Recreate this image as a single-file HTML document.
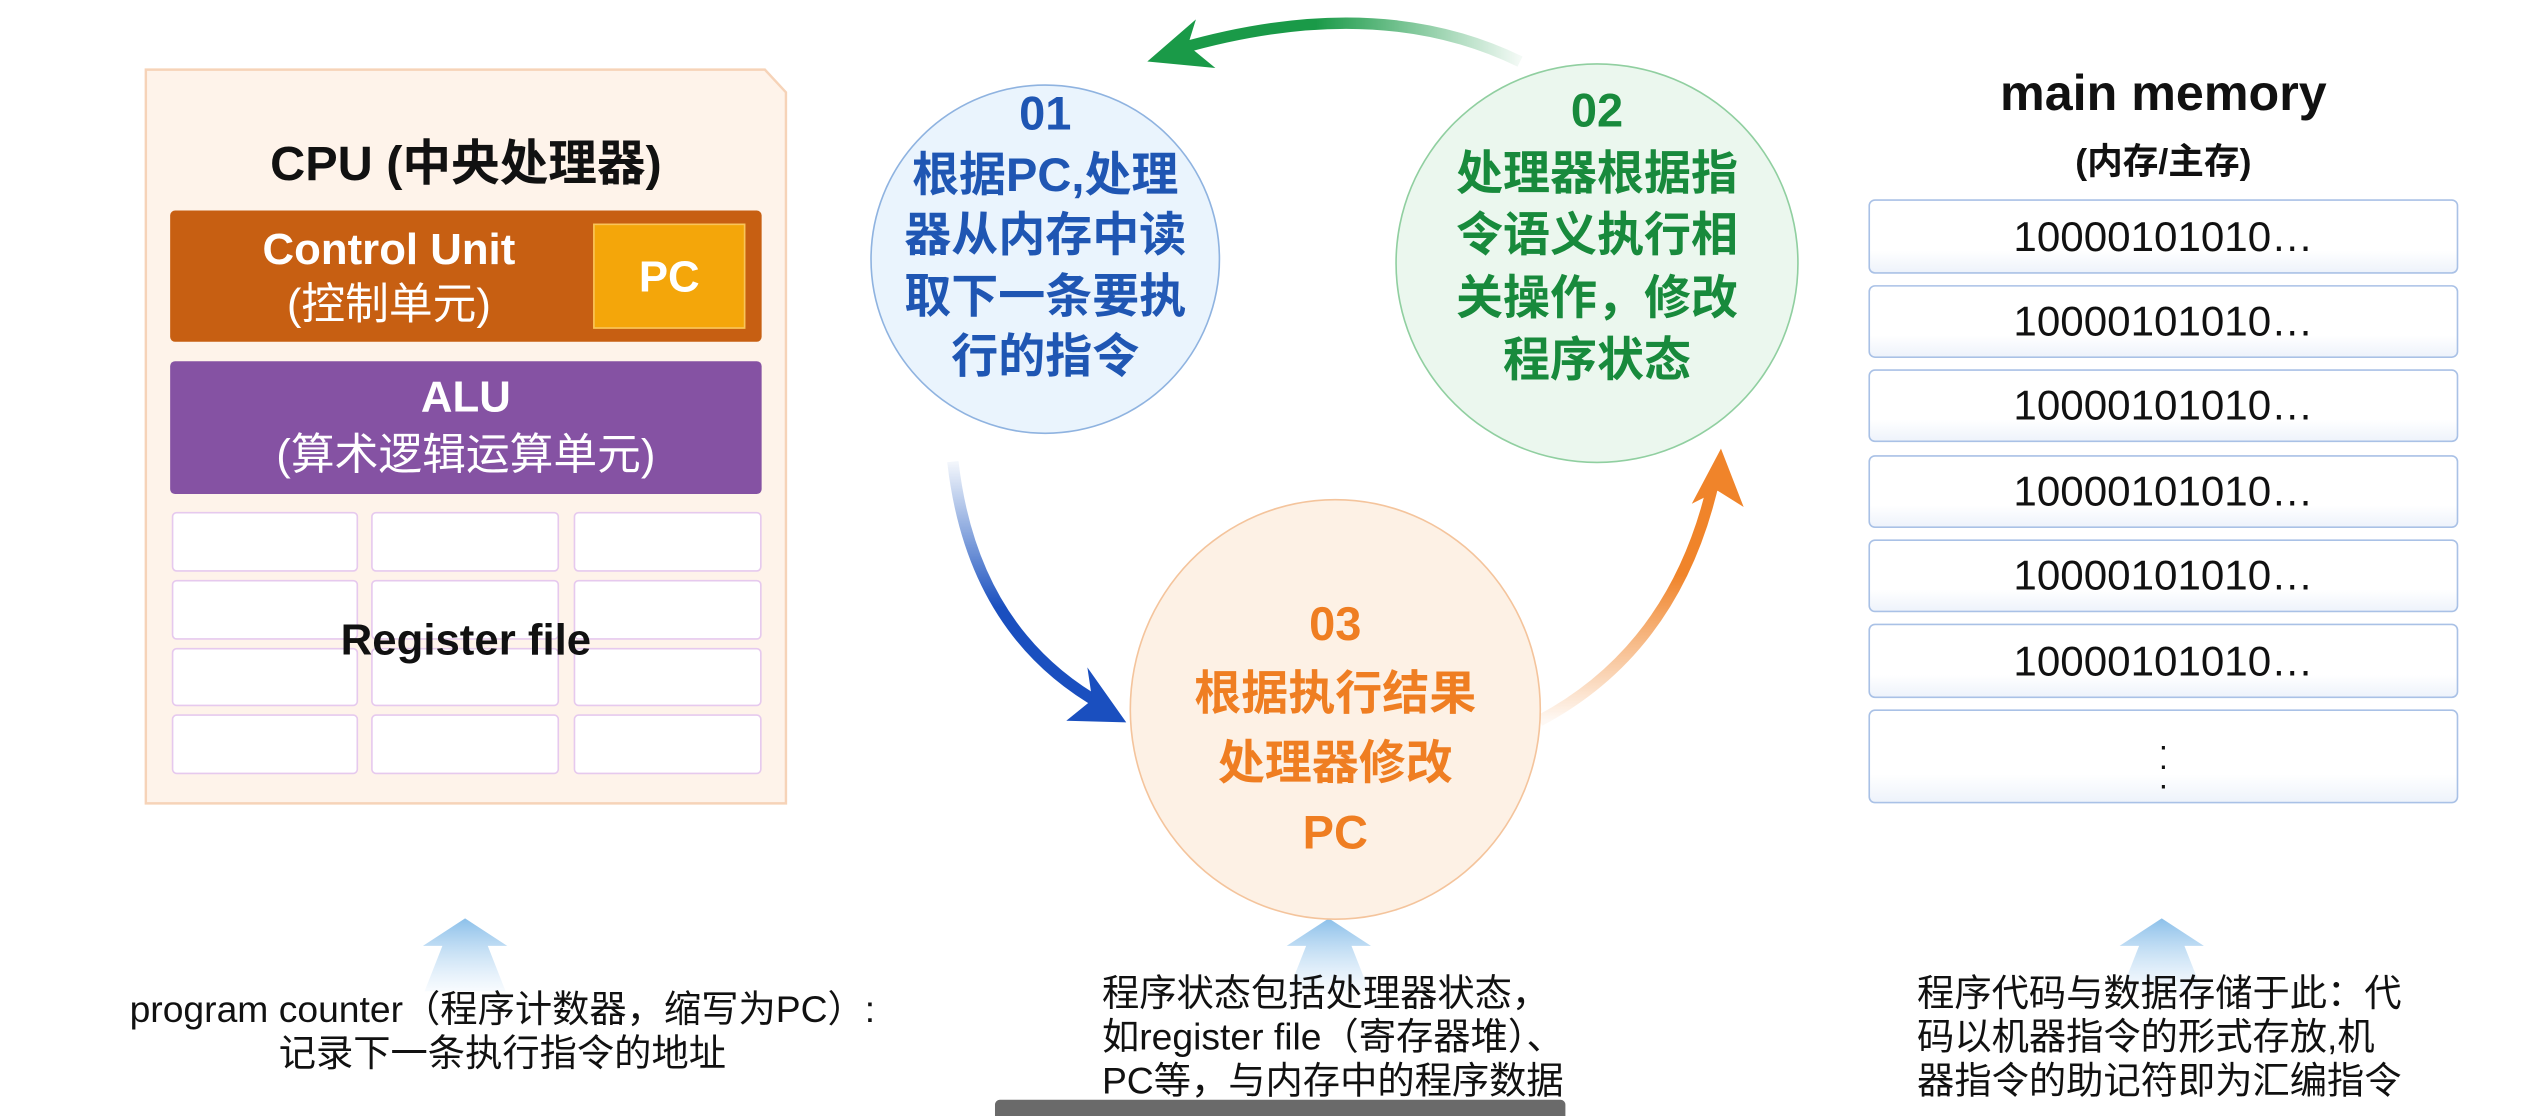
<!DOCTYPE html>
<html><head><meta charset="utf-8"><style>
html,body{margin:0;padding:0;background:#fff;overflow:hidden;}
#w{width:1568px;height:689px;position:relative;transform:scale(1.6205,1.6197);transform-origin:0 0;font-family:"Liberation Sans","Noto Sans CJK SC",sans-serif;}
.a{position:absolute;}
.c{text-align:center;}
.reg{position:absolute;background:#fff;border:1px solid #e6c9ee;border-radius:3px;box-sizing:border-box;}
.mem{position:absolute;left:1153px;width:364px;box-sizing:border-box;border:1.5px solid #a9c1e6;border-radius:4px;background:linear-gradient(#fff 70%,#eef3fb);text-align:center;font-size:26px;color:#111;}
.circ{position:absolute;border-radius:50%;box-sizing:border-box;text-align:center;font-weight:bold;font-size:29px;white-space:nowrap;}
</style></head><body><div id="w">
<svg class="a" style="left:0;top:0" width="1568" height="689">
<polygon points="90,43 472,43 485,57 485,496 90,496" fill="#fef3ea" stroke="#f6d3b8" stroke-width="1.5"/>
<defs>
<linearGradient id="gg" x1="1" y1="0" x2="0" y2="0"><stop offset="0" stop-color="#1a9a48" stop-opacity="0.05"/><stop offset="0.6" stop-color="#1a9a48"/></linearGradient>
<linearGradient id="bg" x1="0" y1="0" x2="0" y2="1"><stop offset="0" stop-color="#1f5bc0" stop-opacity="0.05"/><stop offset="0.6" stop-color="#1a4fbf"/></linearGradient>
<linearGradient id="og" x1="0" y1="1" x2="0" y2="0"><stop offset="0" stop-color="#f0842a" stop-opacity="0.05"/><stop offset="0.6" stop-color="#f0842a"/></linearGradient>
<linearGradient id="ug" x1="0" y1="1" x2="0" y2="0"><stop offset="0" stop-color="#b9d9f3" stop-opacity="0.1"/><stop offset="1" stop-color="#8cc0ea"/></linearGradient>
</defs>
<path d="M938,38 Q850,-5 728,30" fill="none" stroke="url(#gg)" stroke-width="7"/>
<polygon points="708,38 738,12 733,28 750,42" fill="#1a9a48"/>
<path d="M588,285 Q600,390 680,435" fill="none" stroke="url(#bg)" stroke-width="7"/>
<polygon points="695,446 658,445 674,432 671,412" fill="#1a4fbf"/>
<path d="M950,445 Q1035,400 1058,295" fill="none" stroke="url(#og)" stroke-width="7"/>
<polygon points="1062,277 1076,313 1060,303 1044,311" fill="#f0842a"/>
<polygon points="287,567 313,584 301,584 312,612 262,612 273,584 261,584" fill="url(#ug)"/>
<polygon points="820,567 846,584 834,584 845,612 795,612 806,584 794,584" fill="url(#ug)"/>
<polygon points="1334,567 1360,584 1348,584 1359,612 1309,612 1320,584 1308,584" fill="url(#ug)"/>
</svg>
<div class="a c" style="left:90px;width:395px;top:76px;font-size:30px;font-weight:bold;color:#111;">CPU (中央处理器)</div>
<div class="a" style="left:105px;top:130px;width:365px;height:81px;background:#c75f12;border-radius:3px;"></div>
<div class="a c" style="left:105px;top:137px;width:270px;color:#fff;font-size:27px;line-height:34px;"><b>Control Unit</b><br>(控制单元)</div>
<div class="a c" style="left:366px;top:138px;width:94px;height:65px;line-height:65px;background:#f4a60a;border:1px solid #f9c45a;box-sizing:border-box;color:#fff;font-weight:bold;font-size:27px;">PC</div>
<div class="a" style="left:105px;top:223px;width:365px;height:82px;background:#8552a3;border-radius:3px;"></div>
<div class="a c" style="left:105px;top:227px;width:365px;color:#fff;font-size:27px;line-height:36px;"><b>ALU</b><br>(算术逻辑运算单元)</div>
<div class="reg" style="left:106px;top:316px;width:115px;height:37px"></div>
<div class="reg" style="left:229px;top:316px;width:116px;height:37px"></div>
<div class="reg" style="left:354px;top:316px;width:116px;height:37px"></div>
<div class="reg" style="left:106px;top:358px;width:115px;height:37px"></div>
<div class="reg" style="left:229px;top:358px;width:116px;height:37px"></div>
<div class="reg" style="left:354px;top:358px;width:116px;height:37px"></div>
<div class="reg" style="left:106px;top:400px;width:115px;height:36px"></div>
<div class="reg" style="left:229px;top:400px;width:116px;height:36px"></div>
<div class="reg" style="left:354px;top:400px;width:116px;height:36px"></div>
<div class="reg" style="left:106px;top:441px;width:115px;height:37px"></div>
<div class="reg" style="left:229px;top:441px;width:116px;height:37px"></div>
<div class="reg" style="left:354px;top:441px;width:116px;height:37px"></div>
<div class="a c" style="left:90px;width:395px;top:380px;font-size:27px;font-weight:bold;color:#111;">Register file</div>
<div class="circ" style="left:537px;top:52px;width:216px;height:216px;background:#eaf4fd;border:1.5px solid #8fb3e0;color:#1f56b3;padding-top:0px;line-height:37.5px;">01<br>根据PC,处理<br>器从内存中读<br>取下一条要执<br>行的指令</div>
<div class="circ" style="left:861px;top:39px;width:249px;height:247px;background:#ebf7ee;border:1.5px solid #90cfa0;color:#188a3c;padding-top:10px;line-height:38.5px;">02<br>处理器根据指<br>令语义执行相<br>关操作，修改<br>程序状态</div>
<div class="circ" style="left:697px;top:308px;width:254px;height:260px;background:#fdf1e5;border:1.5px solid #f4c49c;color:#ef7e22;padding-top:56px;line-height:43px;">03<br>根据执行结果<br>处理器修改<br>PC</div>
<div class="a c" style="left:1153px;width:364px;top:40px;font-size:31px;font-weight:bold;color:#111;">main memory</div>
<div class="a c" style="left:1153px;width:364px;top:82px;font-size:22px;font-weight:bold;color:#111;">(内存/主存)</div>
<div class="mem" style="top:123px;height:46px;line-height:44px;">10000101010…</div>
<div class="mem" style="top:176px;height:45px;line-height:43px;">10000101010…</div>
<div class="mem" style="top:228px;height:45px;line-height:43px;">10000101010…</div>
<div class="mem" style="top:281px;height:45px;line-height:43px;">10000101010…</div>
<div class="mem" style="top:333px;height:45px;line-height:43px;">10000101010…</div>
<div class="mem" style="top:385px;height:46px;line-height:44px;">10000101010…</div>
<div class="mem" style="top:438px;height:58px;line-height:12px;padding-top:16px;font-size:20px;">·<br>·<br>·</div>
<div class="a c" style="left:10px;width:600px;top:610px;font-size:23px;line-height:27px;color:#111;">program counter（程序计数器，缩写为PC）:<br>记录下一条执行指令的地址</div>
<div class="a" style="left:680px;top:600px;font-size:23px;line-height:27px;color:#111;white-space:nowrap;">程序状态包括处理器状态，<br>如register file（寄存器堆）、<br>PC等，与内存中的程序数据</div>
<div class="a" style="left:1183px;top:600px;font-size:23px;line-height:27px;color:#111;white-space:nowrap;">程序代码与数据存储于此：代<br>码以机器指令的形式存放,机<br>器指令的助记符即为汇编指令</div>
<div class="a" style="left:614px;top:679px;width:352px;height:10px;background:#6a6a6a;border-radius:3px 3px 0 0;"></div>
</div></body></html>
